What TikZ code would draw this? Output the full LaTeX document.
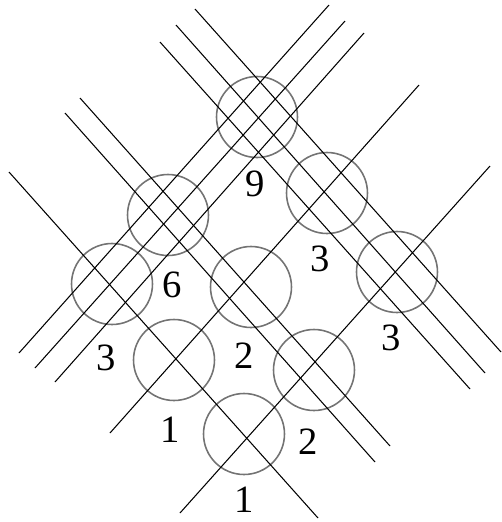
\documentclass[tikz,border=0pt]{standalone}
\usepackage{fontspec}
\setmainfont{Liberation Serif}
\begin{document}
\begin{tikzpicture}[x=0.02cm, y=-0.02cm, line width=0.6pt,
  ring/.style={circle, draw=black!55, line width=0.9pt, minimum size=1.62cm, inner sep=0pt},
  num/.style={inner sep=0pt, font=\fontsize{22}{22}\selectfont}]
\useasboundingbox (0,0) rectangle (502,522);
% circles
     \node[ring] (c1) at (257,117) {};
     \node[ring] (c2) at (327,193) {};
     \node[ring] (c3) at (397,272) {};
     \node[ring] (c4) at (168,215) {};
     \node[ring] (c5) at (251,287) {};
     \node[ring] (c6) at (314,370) {};
     \node[ring] (c7) at (112,284) {};
     \node[ring] (c8) at (174,360) {};
     \node[ring] (c9) at (244,434) {};
% numbers
     \node[num] (n1) at (255,184) {9};
     \node[num] (n2) at (320,259) {3};
     \node[num] (n3) at (391,338) {3};
     \node[num] (n4) at (172,285) {6};
     \node[num] (n5) at (244,356) {2};
     \node[num] (n6) at (308,442) {2};
     \node[num] (n7) at (106,358) {3};
     \node[num] (n8) at (170,430) {1};
     \node[num] (n9) at (244,500) {1};
% line ends
     \coordinate (a0s) at (180,513);  \coordinate (a0e) at (490,166);
     \coordinate (a1s) at (110,433);  \coordinate (a1e) at (419,85);
     \coordinate (a2s) at (19,353);   \coordinate (a2e) at (329,5);
     \coordinate (a3s) at (35,368);   \coordinate (a3e) at (345,21);
     \coordinate (a4s) at (55,382);   \coordinate (a4e) at (364,33);
     \coordinate (b0s) at (9,172);    \coordinate (b0e) at (318,518);
     \coordinate (b1s) at (80,98);    \coordinate (b1e) at (390,446);
     \coordinate (b2s) at (65,113);   \coordinate (b2e) at (375,462);
     \coordinate (b3s) at (195,9);    \coordinate (b3e) at (501,352);
     \coordinate (b4s) at (176,25);   \coordinate (b4e) at (485,373);
     \coordinate (b5s) at (160,42);   \coordinate (b5e) at (470,389);
\draw (a0s) -- (a0e);
\draw (a1s) -- (a1e);
\draw (a2s) -- (a2e);
\draw (a3s) -- (a3e);
\draw (a4s) -- (a4e);
\draw (b0s) -- (b0e);
\draw (b1s) -- (b1e);
\draw (b2s) -- (b2e);
\draw (b3s) -- (b3e);
\draw (b4s) -- (b4e);
\draw (b5s) -- (b5e);
\end{tikzpicture}
\end{document}
